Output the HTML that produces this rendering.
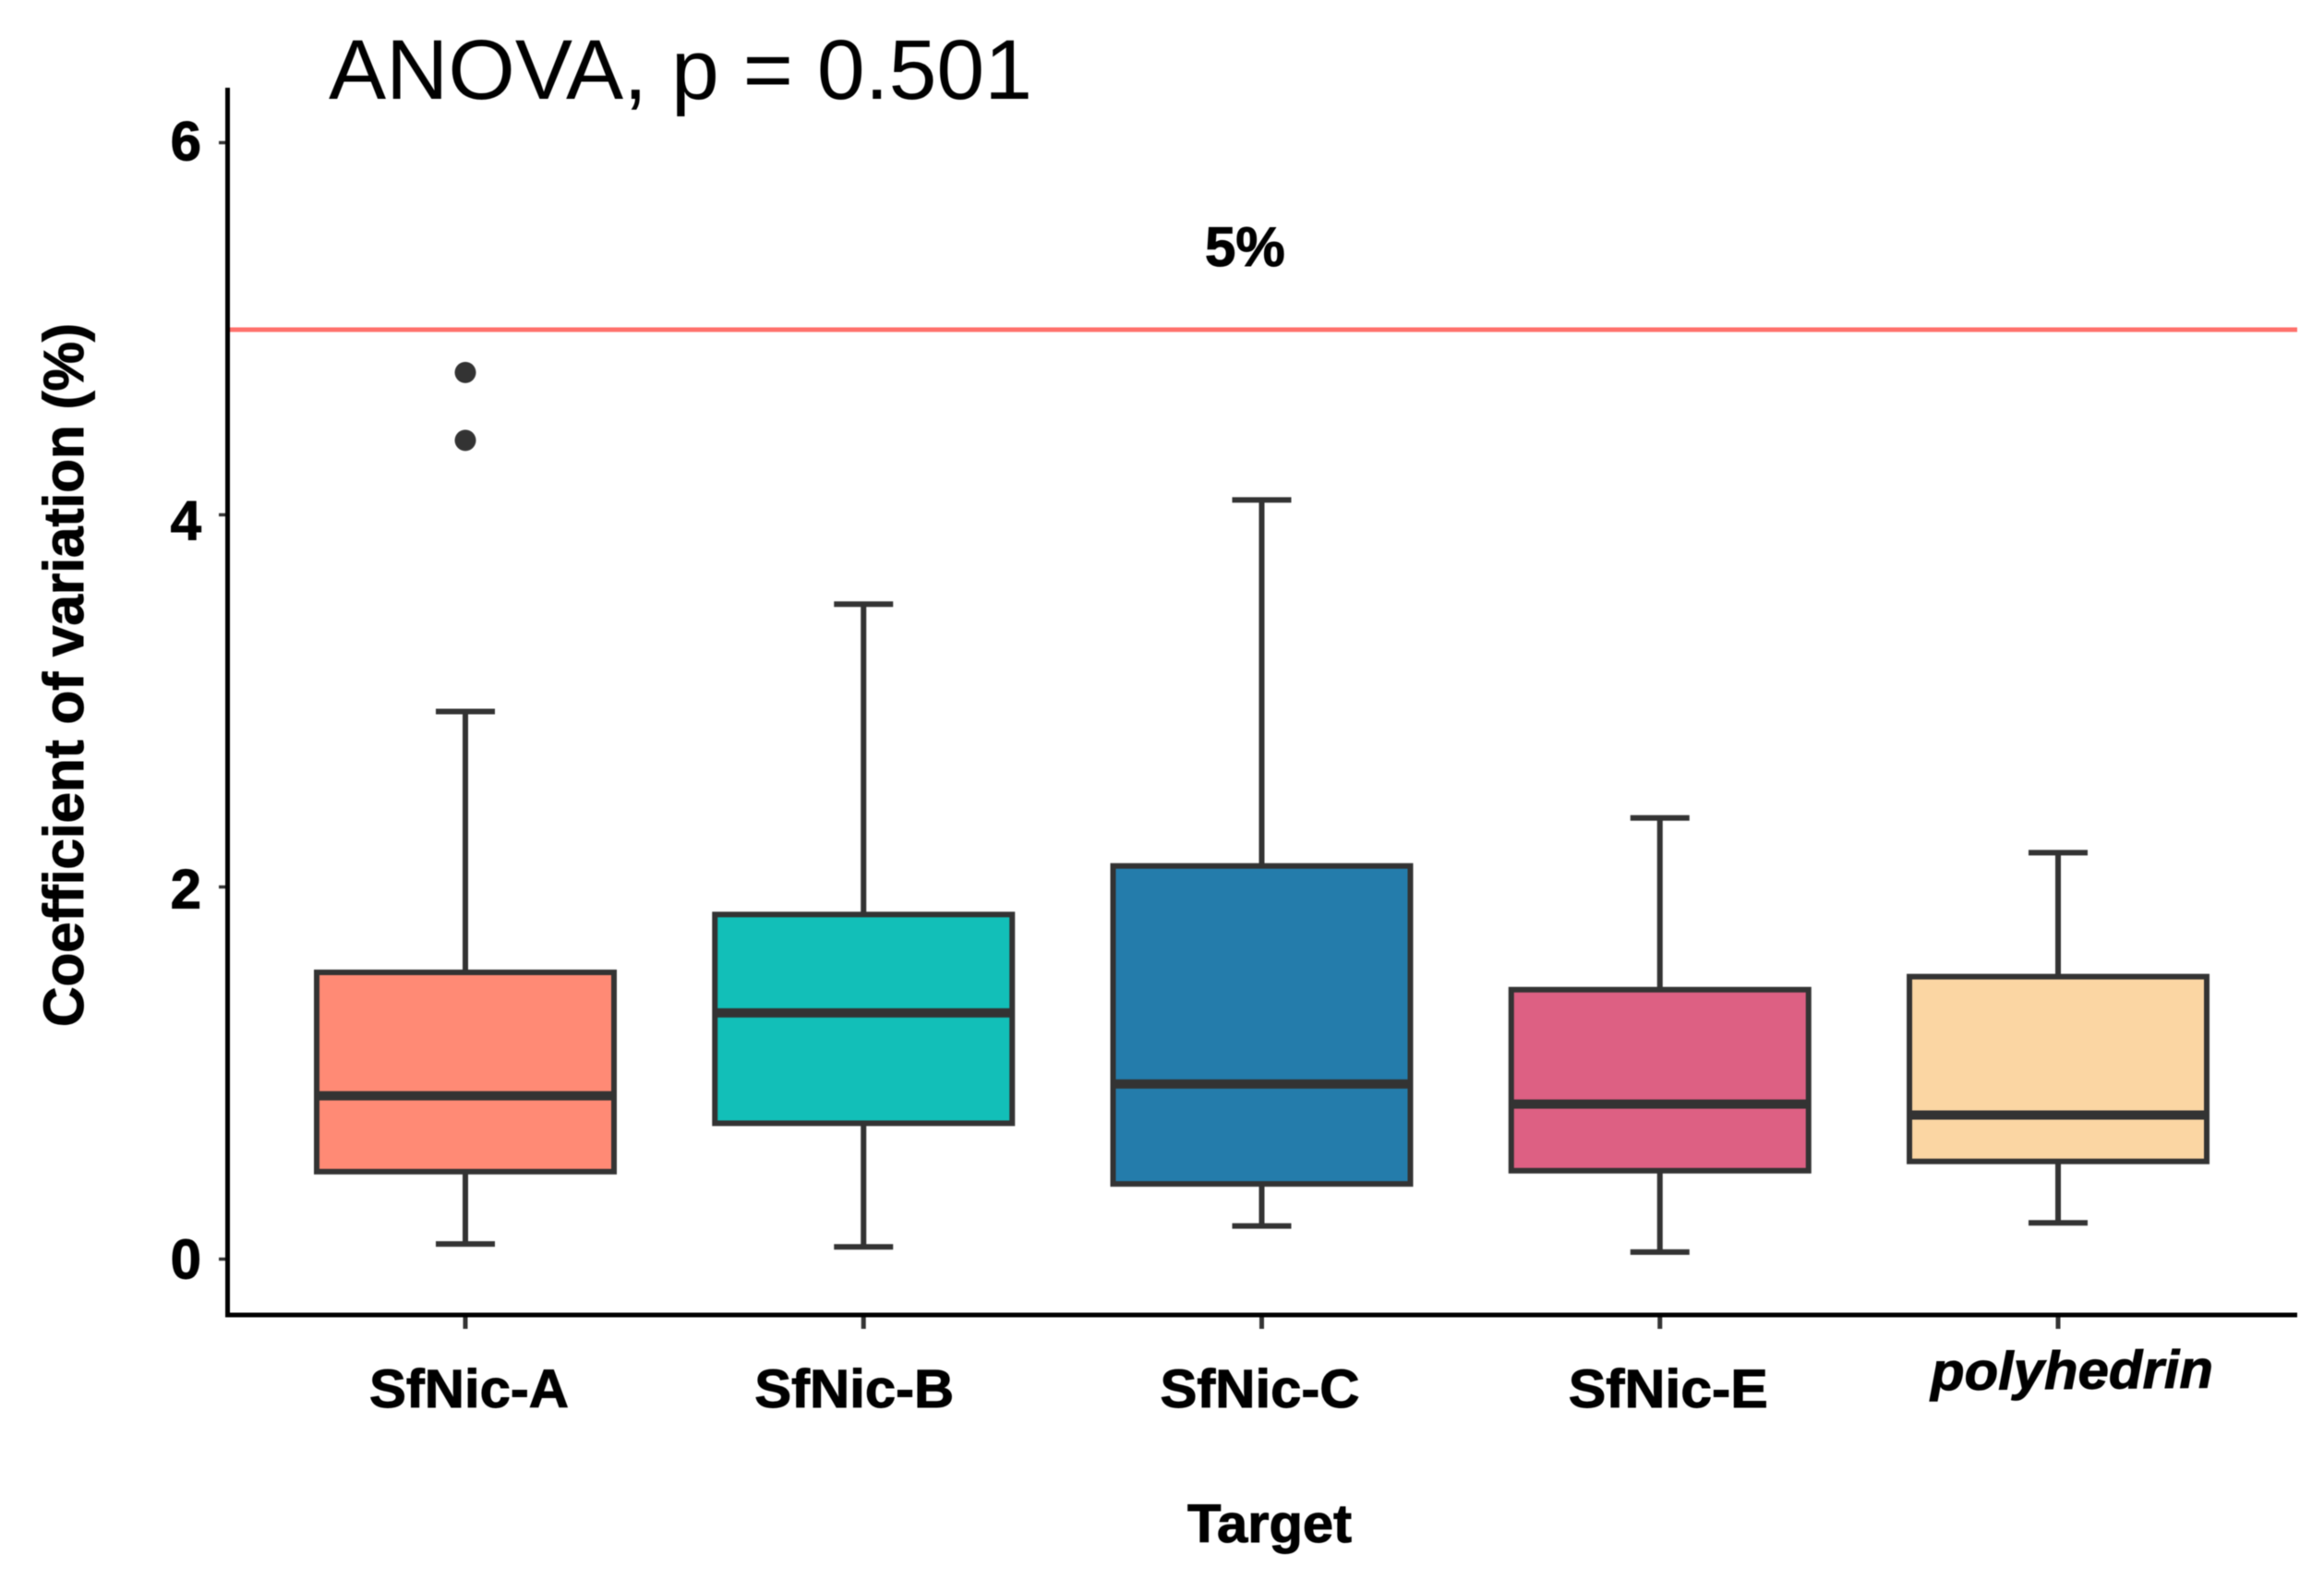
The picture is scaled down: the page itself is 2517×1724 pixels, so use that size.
<!DOCTYPE html>
<html lang="en">
<head>
<meta charset="utf-8">
<title>Coefficient of variation by target</title>
<style>
  html, body { margin: 0; padding: 0; background: #fff; }
  body { width: 2517px; height: 1724px; overflow: hidden; }
  svg { display: block; font-family: "Liberation Sans", Arial, sans-serif; filter: blur(0.5px); }
  text { fill: #000; }
  text.heavy { stroke: #000; stroke-width: 1px; }
</style>
</head>
<body>
<svg id="chart" xmlns="http://www.w3.org/2000/svg" width="2517" height="1724" viewBox="0 0 2517 1724">
  <rect x="0" y="0" width="2517" height="1724" fill="#ffffff"></rect>
  <text x="356" y="107" font-size="92" textLength="762" lengthAdjust="spacingAndGlyphs">ANOVA, p = 0.501</text>
  <text class="heavy" x="1305" y="288" font-size="60" font-weight="700">5%</text>
  <text class="heavy" transform="translate(90 1112) rotate(-90)" font-size="61" font-weight="700" textLength="762" lengthAdjust="spacingAndGlyphs">Coefficient of variation (%)</text>
  <text class="heavy" x="1286" y="1670" font-size="58" font-weight="700" textLength="178" lengthAdjust="spacingAndGlyphs">Target</text>
  <g id="marks"></g>
</svg>
<script>
const categories = ["SfNic-A", "SfNic-B", "SfNic-C", "SfNic-E", "polyhedrin"];
const whiskerLow = [0.081, 0.066, 0.178, 0.038, 0.195];
const quartile1 = [0.47, 0.73, 0.404, 0.475, 0.525];
const medians = [0.878, 1.323, 0.941, 0.833, 0.774];
const quartile3 = [1.541, 1.852, 2.113, 1.448, 1.518];
const whiskerHigh = [2.943, 3.52, 4.08, 2.371, 2.184];
const outliersA = [4.765, 4.40];
const outliersB = [];
const outliersC = [];
const outliersE = [];
const outliersPolyhedrin = [];
const outliers = [outliersA, outliersB, outliersC, outliersE, outliersPolyhedrin];
const fillColors = ["#FF8A75", "#12BFB8", "#247CAB", "#DD6083", "#FBD6A3"];
const yTickValues = [0, 2, 4, 6];
const thresholdValue = 5;

const NS = "http://www.w3.org/2000/svg";
const INK = "#333333";
const plot = document.getElementById("marks");

function xScale(i) { return 504 + 431.25 * i; }
function yScale(v) { return 1363.5 - 201.5 * v; }

function el(tag, attrs) {
  const node = document.createElementNS(NS, tag);
  for (const key in attrs) node.setAttribute(key, attrs[key]);
  plot.appendChild(node);
  return node;
}

const BOX_W = 322;
const CAP_W = 64;
const AXIS_LEFT = 246.5;
const AXIS_BOTTOM = 1424;

/* hand-placed label offsets in the original figure (layout only) */
const labelShift = { "SfNic-A": -104, "SfNic-B": -118, "SfNic-C": -110, "SfNic-E": -99, "polyhedrin": -138 };
const yLabelShift = { 0: 21, 2: 23, 4: 27, 6: 19 };

const threshold = el("line", { x1: AXIS_LEFT, x2: 2488, y1: yScale(thresholdValue) + 1, y2: yScale(thresholdValue) + 1, stroke: "#FF716C", "stroke-width": 5 });



categories.forEach(function (name, i) {
  const cx = xScale(i);
  const slug = name.toLowerCase();

  const stem = el("line", { x1: cx, x2: cx, y1: yScale(whiskerHigh[i]), y2: yScale(whiskerLow[i]), stroke: INK, "stroke-width": 6 });
  
  

  const capTop = el("line", { x1: cx - CAP_W / 2, x2: cx + CAP_W / 2, y1: yScale(whiskerHigh[i]), y2: yScale(whiskerHigh[i]), stroke: INK, "stroke-width": 6 });
  
  

  const capLow = el("line", { x1: cx - CAP_W / 2, x2: cx + CAP_W / 2, y1: yScale(whiskerLow[i]), y2: yScale(whiskerLow[i]), stroke: INK, "stroke-width": 6 });
  
  

  const box = el("rect", { x: cx - BOX_W / 2, y: yScale(quartile3[i]), width: BOX_W, height: yScale(quartile1[i]) - yScale(quartile3[i]), fill: fillColors[i], stroke: INK, "stroke-width": 6 });
  
  

  const median = el("line", { x1: cx - BOX_W / 2, x2: cx + BOX_W / 2, y1: yScale(medians[i]), y2: yScale(medians[i]), stroke: INK, "stroke-width": 10 });
  
  

  outliers[i].forEach(function (v) {
    const dot = el("circle", { cx: cx, cy: yScale(v), r: 11.5, fill: INK });
    
    
  });

  const tick = el("line", { x1: cx, x2: cx, y1: AXIS_BOTTOM, y2: 1439, stroke: INK, "stroke-width": 5 });
  
  

  const isItalic = name === "polyhedrin";
  const labelAttrs = isItalic
    ? { class: "heavy", x: cx + labelShift[name], y: 1504, "font-size": 58, "font-weight": 700, "font-style": "italic", textLength: 306, lengthAdjust: "spacingAndGlyphs", transform: "rotate(-0.5 " + cx + " 1490)" }
    : { class: "heavy", x: cx + labelShift[name], y: 1524, "font-size": 58, "font-weight": 700, textLength: 216, lengthAdjust: "spacingAndGlyphs" };
  const label = el("text", labelAttrs);
  label.textContent = name;
  
  
});

yTickValues.forEach(function (v) {
  const tick = el("line", { x1: 237, x2: AXIS_LEFT, y1: yScale(v), y2: yScale(v), stroke: INK, "stroke-width": 3.5 });
  
  

  const label = el("text", { class: "heavy", x: 218, y: yScale(v) + yLabelShift[v], "font-size": 60, "font-weight": 700, "text-anchor": "end" });
  label.textContent = String(v);
  
  
});

const yAxis = el("line", { x1: AXIS_LEFT, x2: AXIS_LEFT, y1: 95, y2: AXIS_BOTTOM + 2.5, stroke: "#000", "stroke-width": 5 });



const xAxis = el("line", { x1: AXIS_LEFT - 2.5, x2: 2488, y1: AXIS_BOTTOM, y2: AXIS_BOTTOM, stroke: "#000", "stroke-width": 5 });


</script>
</body>
</html>
